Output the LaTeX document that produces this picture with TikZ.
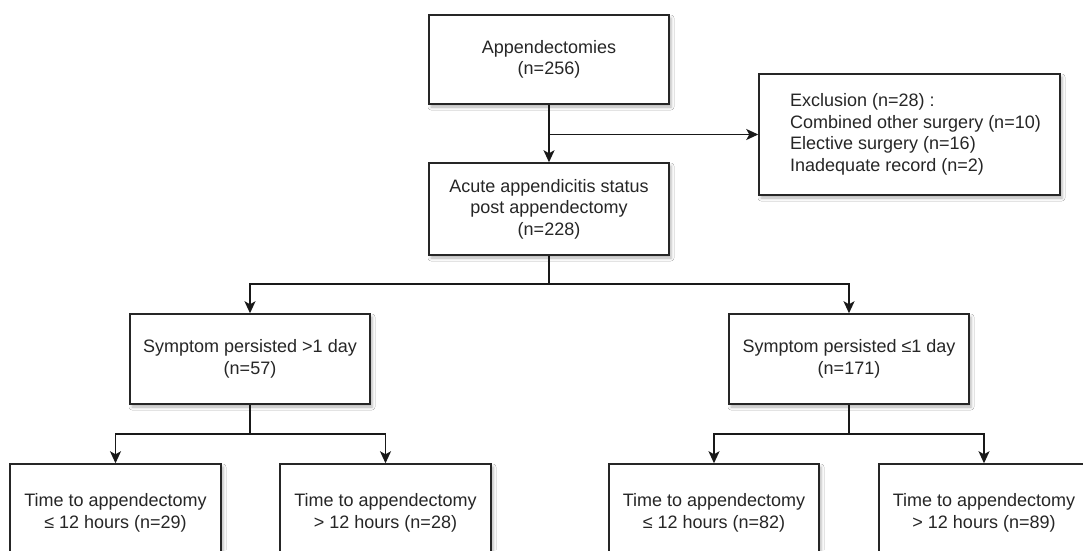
\documentclass[tikz,border=0pt]{standalone}
\usepackage{fontspec}
\setmainfont{Liberation Sans}
\usetikzlibrary{arrows.meta,shadows.blur}
\begin{document}
\begin{tikzpicture}[x=1pt,y=-1pt,
  txt/.style={font=\fontsize{18}{21.5}\selectfont, text=black!85},
  box/.style={txt, draw=black!85, line width=1.5pt, fill=white, inner sep=0pt, align=center,
    blur shadow={shadow xshift=2pt, shadow yshift=-3pt, shadow blur radius=3pt, shadow opacity=30}},
  bigbox/.style={box, minimum width=240pt, minimum height=90pt},
  smallbox/.style={box, minimum width=211pt, minimum height=98pt},
  conn/.style={draw=black!90, line width=1.5pt},
  arr/.style={conn, -{Stealth[length=12pt,width=11pt,inset=3pt]}}
]
\useasboundingbox (0,0) rectangle (1083,550);
\clip (0,0) rectangle (1083,550);
\fill[white] (0,0) rectangle (1083,550);

\node[bigbox, minimum height=89pt] (A) at (549,59.5) {Appendectomies\\(n=256)};
\node[bigbox, minimum height=92pt] (B) at (549,209) {Acute appendicitis status\\post appendectomy\\(n=228)};
\node[box, minimum width=301pt, minimum height=121pt] (excl) at (909.5,134.5) {};
\node[txt, align=left, inner sep=0pt] (excltext) at (915.5,134.5) {Exclusion (n=28) :\\Combined other surgery (n=10)\\Elective surgery (n=16)\\Inadequate record (n=2)};

\node[bigbox] (S1) at (250,359) {Symptom persisted >1 day\\(n=57)};
\node[bigbox] (S2) at (849,359) {Symptom persisted ≤1 day\\(n=171)};

\node[smallbox] (T1) at (115.5,513) {Time to appendectomy\\≤ 12 hours (n=29)};
\node[smallbox] (T2) at (385.5,513) {Time to appendectomy\\> 12 hours (n=28)};
\node[smallbox, minimum width=210pt] (T3) at (714,513) {Time to appendectomy\\≤ 12 hours (n=82)};
\node[smallbox, minimum width=210pt] (T4) at (984,513) {Time to appendectomy\\> 12 hours (n=89)};

\coordinate (j1) at (549,134.5);
\coordinate (j2) at (549,284);
\coordinate (j3) at (250,434);
\coordinate (j4) at (849,434);

\draw[arr] (A.south) -- (B.north);
\draw[arr] (j1) -- (excl.west);
\draw[conn] (B.south) -- (j2);
\draw[arr] (j2) -| (S1.north);
\draw[arr] (j2) -| (S2.north);
\draw[conn] (S1.south) -- (j3);
\draw[arr] (j3) -| (T1.north);
\draw[arr] (j3) -| (T2.north);
\draw[conn] (S2.south) -- (j4);
\draw[arr] (j4) -| (T3.north);
\draw[arr] (j4) -| (T4.north);
\end{tikzpicture}
\end{document}
